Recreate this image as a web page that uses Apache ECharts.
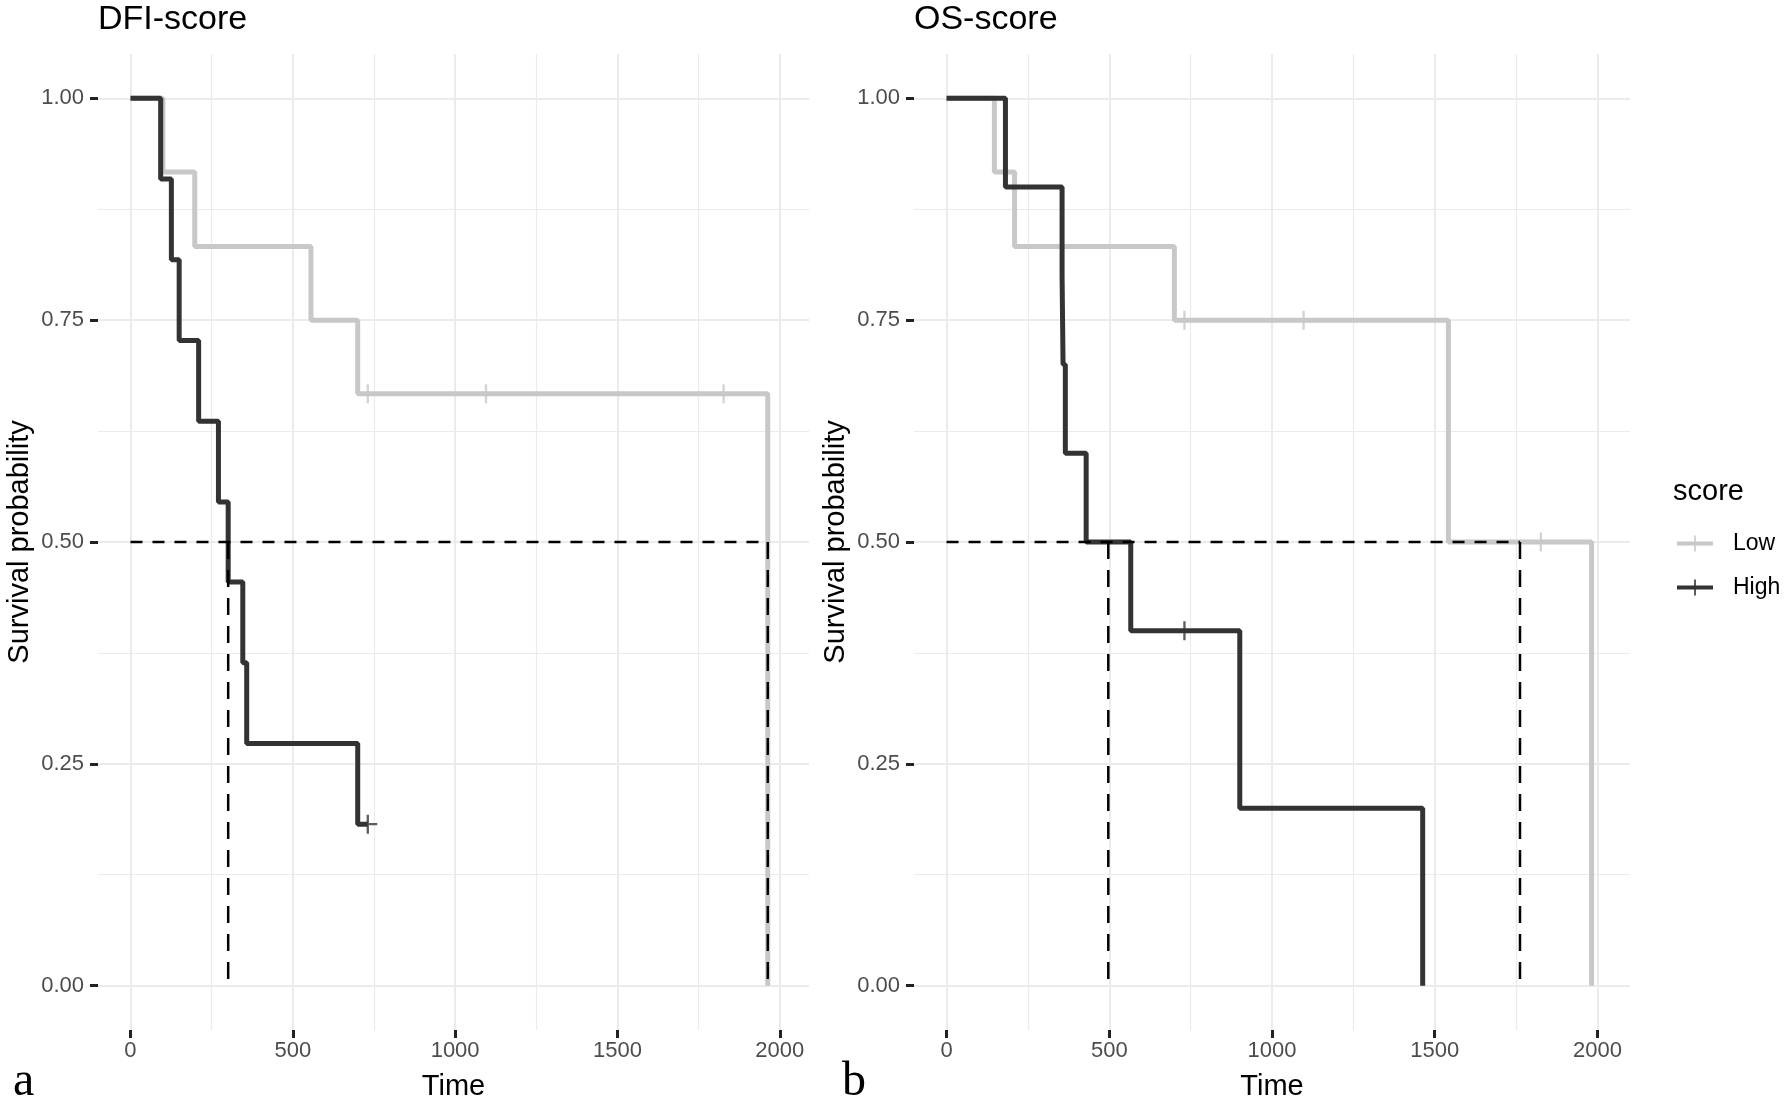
<!DOCTYPE html>
<html>
<head>
<meta charset="utf-8">
<script src="https://cdn.jsdelivr.net/npm/echarts@6/dist/echarts.min.js"></script>
<style>
html, body { margin: 0; padding: 0; background: #fff; }
#main { width: 1784px; height: 1101px; }
</style>
</head>
<body>
<div id="main"></div>
<script>
var xTicks = [0, 500, 1000, 1500, 2000];
var xMinorTicks = [250, 750, 1250, 1750];
var yTicks = [0, 0.25, 0.5, 0.75, 1];
var yMinorTicks = [0.125, 0.375, 0.625, 0.875];
var groupNames = ["Low", "High"];
var panelTitles = ["DFI-score", "OS-score"];
var panelLetters = ["a", "b"];

// DFI-score curves (time, survival)
var dfiLowTime = [0, 100, 198, 556, 700, 1963];
var dfiLowSurv = [1, 0.917, 0.833, 0.75, 0.667, 0];
var dfiLowCensorTime = [731, 1095, 1827];
var dfiLowCensorSurv = [0.667, 0.667, 0.667];
var dfiHighTime = [0, 93, 126, 150, 210, 271, 301, 346, 358, 700, 731];
var dfiHighSurv = [1, 0.909, 0.818, 0.727, 0.636, 0.545, 0.455, 0.364, 0.273, 0.182, 0.182];
var dfiHighCensorTime = [731];
var dfiHighCensorSurv = [0.182];
var dfiMedians = [1963, 301]; // Low, High

// OS-score curves
var osLowTime = [0, 147, 209, 700, 1542, 1982];
var osLowSurv = [1, 0.917, 0.833, 0.75, 0.5, 0];
var osLowCensorTime = [731, 1097, 1826];
var osLowCensorSurv = [0.75, 0.75, 0.5];
var osHighTime = [0, 181, 355, 358, 365, 429, 566, 901, 1463];
var osHighSurv = [1, 0.9, 0.8, 0.7, 0.6, 0.5, 0.4, 0.2, 0];
var osHighCensorTime = [731];
var osHighCensorSurv = [0.4];
var osMedians = [1762, 497];

var kmChart = {
    font : "Liberation Sans, Arial, sans-serif"
    ,colors : ["#c8c8c8", "#333333"]
    ,grids : [
        {left: 98, top: 54, width: 711, height: 976},
        {left: 914, top: 54, width: 716, height: 976}
    ]
    ,xRanges : [[-100, 2090], [-100, 2100]]
    ,plusIcon : "path://M-1.1,-9H1.1V9H-1.1Z M-9,-1.1H9V1.1H-9Z"
    ,keyIcon : "path://M0,6H36V10H0Z M17.2,0H18.8V16H17.2Z"
    ,funcs : {
        pairs : function(t, s) {
            return t.map(function(v, i) { return [v, s[i]]; });
        }
        /** major + minor axes for one panel */
        ,buildAxes : function(g, xAxis, yAxis) {
            var r = kmChart.xRanges[g];
            xAxis.push({
                gridIndex: g, type: "value", min: r[0], max: r[1], position: "bottom",
                axisLine: {show: false, onZero: false},
                axisTick: {show: true, customValues: xTicks, length: 8, lineStyle: {color: "#222", width: 3}},
                axisLabel: {customValues: xTicks, margin: 10, fontSize: 22, color: "#4d4d4d",
                    formatter: function(v) { return String(v); }},
                splitLine: {show: true, lineStyle: {color: "#ebebeb", width: 2}},
                name: "Time", nameLocation: "middle", nameGap: 42,
                nameTextStyle: {fontSize: 29, color: "#000"}
            });
            xAxis.push({
                gridIndex: g, type: "value", min: r[0], max: r[1], position: "top",
                axisLine: {show: false, onZero: false},
                axisTick: {show: false, customValues: xMinorTicks},
                axisLabel: {show: false, customValues: xMinorTicks},
                splitLine: {show: true, lineStyle: {color: "#ebebeb", width: 1.2}}
            });
            yAxis.push({
                gridIndex: g, type: "value", min: -0.05, max: 1.05, position: "left",
                axisLine: {show: false, onZero: false},
                axisTick: {show: true, customValues: yTicks, length: 8, lineStyle: {color: "#222", width: 3}},
                axisLabel: {customValues: yTicks, margin: 14, fontSize: 22, color: "#4d4d4d",
                    formatter: function(v) { return v.toFixed(2); }},
                splitLine: {show: true, lineStyle: {color: "#ebebeb", width: 2}},
                name: "Survival probability", nameLocation: "middle", nameGap: 64,
                nameTextStyle: {fontSize: 29, color: "#000"}
            });
            yAxis.push({
                gridIndex: g, type: "value", min: -0.05, max: 1.05, position: "right",
                axisLine: {show: false, onZero: false},
                axisTick: {show: false, customValues: yMinorTicks},
                axisLabel: {show: false, customValues: yMinorTicks},
                splitLine: {show: true, lineStyle: {color: "#ebebeb", width: 1.2}}
            });
        }
        /** curves, censor marks and median lines for one panel */
        ,buildSeries : function(g, curves, censors, medians) {
            var list = [];
            var xi = g * 2, yi = g * 2;
            curves.forEach(function(c, k) {
                list.push({
                    name: groupNames[k], type: "line", xAxisIndex: xi, yAxisIndex: yi,
                    step: "end", symbol: "none", z: 2 + k,
                    data: kmChart.funcs.pairs(c[0], c[1]),
                    itemStyle: {color: kmChart.colors[k]},
                    lineStyle: {color: kmChart.colors[k], width: 5}
                });
            });
            censors.forEach(function(c, k) {
                list.push({
                    name: groupNames[k] + " censored", type: "scatter", xAxisIndex: xi, yAxisIndex: yi,
                    symbol: kmChart.plusIcon, symbolSize: 19, z: 4,
                    data: kmChart.funcs.pairs(c[0], c[1]),
                    itemStyle: {color: kmChart.colors[k]}
                });
            });
            var far = Math.max.apply(null, medians);
            list.push({
                type: "line", xAxisIndex: xi, yAxisIndex: yi, symbol: "none", z: 5, silent: true,
                data: [[0, 0.5], [far, 0.5]],
                lineStyle: {color: "#000", width: 2.5, type: [12, 10]}
            });
            medians.forEach(function(m) {
                list.push({
                    type: "line", xAxisIndex: xi, yAxisIndex: yi, symbol: "none", z: 5, silent: true,
                    data: [[m, 0.5], [m, 0]],
                    lineStyle: {color: "#000", width: 2.5, type: [17, 11]}
                });
            });
            return list;
        }
        ,render : function() {
            var myChart = echarts.init(document.getElementById("main"));
            var xAxis = [], yAxis = [];
            kmChart.funcs.buildAxes(0, xAxis, yAxis);
            kmChart.funcs.buildAxes(1, xAxis, yAxis);
            var series = [].concat(
                kmChart.funcs.buildSeries(0,
                    [[dfiLowTime, dfiLowSurv], [dfiHighTime, dfiHighSurv]],
                    [[dfiLowCensorTime, dfiLowCensorSurv], [dfiHighCensorTime, dfiHighCensorSurv]],
                    dfiMedians),
                kmChart.funcs.buildSeries(1,
                    [[osLowTime, osLowSurv], [osHighTime, osHighSurv]],
                    [[osLowCensorTime, osLowCensorSurv], [osHighCensorTime, osHighCensorSurv]],
                    osMedians)
            );
            var titleStyle = {fontSize: 34, fontWeight: "normal", color: "#000"};
            var letterStyle = {fontSize: 48, fontWeight: "normal", color: "#000", fontFamily: "Liberation Serif, serif"};
            var option = {
                animation: false,
                backgroundColor: "#fff",
                textStyle: {fontFamily: kmChart.font},
                title: [
                    {text: panelTitles[0], left: 98, top: 3, padding: 0, textStyle: titleStyle},
                    {text: panelTitles[1], left: 914, top: 3, padding: 0, textStyle: titleStyle},
                    {text: "score", left: 1673, top: 477, padding: 0,
                        textStyle: {fontSize: 29, fontWeight: "normal", color: "#000"}},
                    {text: panelLetters[0], left: 13, top: 1058, padding: 0, textStyle: letterStyle},
                    {text: panelLetters[1], left: 842, top: 1058, padding: 0, textStyle: letterStyle}
                ],
                legend: {
                    data: groupNames, orient: "vertical", left: 1677, top: 532, padding: 0,
                    itemWidth: 36, itemHeight: 16, itemGap: 21, icon: kmChart.keyIcon,
                    textStyle: {fontSize: 23, color: "#000", padding: [0, 0, 0, 15]}
                },
                grid: kmChart.grids.map(function(g) {
                    return {left: g.left, top: g.top, width: g.width, height: g.height, outerBoundsMode: "none"};
                }),
                xAxis: xAxis,
                yAxis: yAxis,
                series: series
            };
            myChart.setOption(option);
        }
    }
};
kmChart.funcs.render();
</script>
</body>
</html>
